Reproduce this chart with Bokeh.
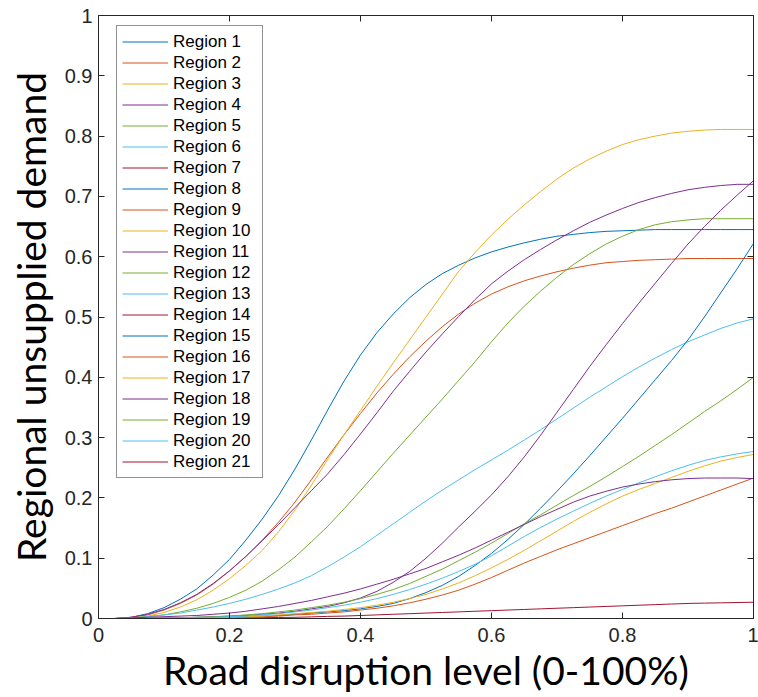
from bokeh.plotting import figure
from bokeh.models import Legend, LegendItem, LinearAxis, FixedTicker, Range1d
from bokeh.embed import file_html
from bokeh.resources import INLINE

# ---------------- data ----------------
x_vals = [0.025, 0.05, 0.075, 0.1, 0.125, 0.15, 0.175, 0.2, 0.225, 0.25,
          0.275, 0.3, 0.325, 0.35, 0.375, 0.4, 0.425, 0.45, 0.475, 0.5,
          0.525, 0.55, 0.575, 0.6, 0.625, 0.65, 0.675, 0.7, 0.725, 0.75,
          0.775, 0.8, 0.825, 0.85, 0.875, 0.9, 0.925, 0.95, 0.975, 1.0]

region_1 = [0, 0.002, 0.008, 0.018, 0.032, 0.049, 0.072, 0.098, 0.13, 0.165,
            0.204, 0.248, 0.296, 0.346, 0.394, 0.437, 0.474, 0.505, 0.532, 0.554,
            0.572, 0.586, 0.598, 0.608, 0.616, 0.623, 0.629, 0.634, 0.637, 0.64,
            0.642, 0.643, 0.644, 0.645, 0.645, 0.645, 0.645, 0.645, 0.645, 0.645]
region_2 = [0, 0.002, 0.006, 0.014, 0.025, 0.039, 0.057, 0.079, 0.103, 0.13,
            0.16, 0.193, 0.23, 0.268, 0.305, 0.34, 0.374, 0.405, 0.434, 0.46,
            0.484, 0.505, 0.523, 0.538, 0.55, 0.56, 0.568, 0.575, 0.581, 0.586,
            0.59, 0.592, 0.594, 0.595, 0.596, 0.597, 0.597, 0.597, 0.597, 0.597]
region_3 = [0, 0.001, 0.004, 0.01, 0.019, 0.031, 0.047, 0.066, 0.088, 0.113,
            0.144, 0.18, 0.221, 0.264, 0.305, 0.345, 0.385, 0.424, 0.462, 0.5,
            0.538, 0.576, 0.607, 0.636, 0.662, 0.686, 0.708, 0.729, 0.747, 0.762,
            0.775, 0.786, 0.794, 0.8, 0.805, 0.808, 0.81, 0.811, 0.811, 0.811]
region_4 = [0, 0.002, 0.007, 0.015, 0.026, 0.04, 0.058, 0.079, 0.103, 0.129,
            0.156, 0.184, 0.212, 0.24, 0.272, 0.306, 0.341, 0.377, 0.41, 0.442,
            0.472, 0.501, 0.529, 0.555, 0.576, 0.595, 0.612, 0.628, 0.643, 0.657,
            0.669, 0.68, 0.69, 0.698, 0.705, 0.711, 0.715, 0.718, 0.72, 0.72]
region_5 = [0, 0.001, 0.003, 0.006, 0.011, 0.017, 0.025, 0.035, 0.047, 0.062,
            0.081, 0.102, 0.127, 0.153, 0.182, 0.212, 0.243, 0.274, 0.304, 0.334,
            0.364, 0.395, 0.426, 0.459, 0.49, 0.518, 0.543, 0.566, 0.587, 0.605,
            0.621, 0.634, 0.645, 0.653, 0.658, 0.661, 0.663, 0.663, 0.663, 0.663]
region_6 = [0, 0.001, 0.003, 0.006, 0.009, 0.014, 0.019, 0.025, 0.032, 0.04,
            0.049, 0.059, 0.071, 0.086, 0.102, 0.119, 0.138, 0.157, 0.176, 0.195,
            0.213, 0.23, 0.247, 0.263, 0.279, 0.296, 0.313, 0.331, 0.349, 0.367,
            0.384, 0.401, 0.417, 0.432, 0.446, 0.459, 0.47, 0.481, 0.49, 0.497]
region_7 = [0, 0, 0, 0, 0, 0, 0, 0.0005, 0.001, 0.0013,
            0.0017, 0.002, 0.0027, 0.0035, 0.004, 0.005, 0.006, 0.007, 0.008, 0.009,
            0.01, 0.011, 0.012, 0.013, 0.014, 0.015, 0.016, 0.017, 0.018, 0.019,
            0.02, 0.021, 0.022, 0.023, 0.024, 0.025, 0.0255, 0.026, 0.0265, 0.027]
region_8 = [0, 0, 0, 0, 0.001, 0.001, 0.002, 0.002, 0.003, 0.004,
            0.005, 0.007, 0.009, 0.011, 0.013, 0.016, 0.02, 0.025, 0.033, 0.043,
            0.055, 0.07, 0.088, 0.108, 0.131, 0.156, 0.183, 0.211, 0.24, 0.27,
            0.301, 0.332, 0.364, 0.396, 0.428, 0.462, 0.5, 0.54, 0.58, 0.622]
region_9 = [0, 0, 0, 0, 0, 0.001, 0.001, 0.002, 0.002, 0.003,
            0.004, 0.006, 0.007, 0.009, 0.011, 0.014, 0.017, 0.021, 0.026, 0.032,
            0.039, 0.047, 0.057, 0.068, 0.08, 0.092, 0.103, 0.114, 0.124, 0.134,
            0.144, 0.154, 0.164, 0.174, 0.183, 0.193, 0.203, 0.213, 0.223, 0.233]
region_10 = [0, 0, 0, 0, 0.001, 0.001, 0.002, 0.002, 0.003, 0.004,
             0.006, 0.008, 0.01, 0.012, 0.015, 0.018, 0.022, 0.027, 0.033, 0.04,
             0.049, 0.059, 0.071, 0.084, 0.098, 0.113, 0.129, 0.145, 0.161, 0.176,
             0.19, 0.203, 0.214, 0.224, 0.234, 0.244, 0.253, 0.261, 0.267, 0.272]
region_11 = [0, 0, 0, 0.001, 0.001, 0.002, 0.003, 0.004, 0.005, 0.007,
             0.009, 0.012, 0.016, 0.02, 0.026, 0.034, 0.045, 0.06, 0.078, 0.1,
             0.125, 0.152, 0.178, 0.205, 0.235, 0.268, 0.304, 0.342, 0.38, 0.418,
             0.454, 0.489, 0.523, 0.556, 0.589, 0.621, 0.65, 0.677, 0.702, 0.726]
region_12 = [0, 0, 0, 0.001, 0.001, 0.002, 0.003, 0.004, 0.006, 0.008,
             0.011, 0.014, 0.018, 0.022, 0.027, 0.033, 0.04, 0.048, 0.058, 0.07,
             0.082, 0.096, 0.11, 0.125, 0.141, 0.157, 0.172, 0.188, 0.204, 0.219,
             0.235, 0.252, 0.269, 0.287, 0.305, 0.324, 0.343, 0.361, 0.38, 0.40]
region_13 = [0, 0, 0, 0.001, 0.001, 0.002, 0.002, 0.003, 0.004, 0.006,
             0.008, 0.011, 0.014, 0.018, 0.022, 0.027, 0.033, 0.04, 0.048, 0.057,
             0.067, 0.078, 0.09, 0.104, 0.12, 0.136, 0.151, 0.165, 0.178, 0.191,
             0.203, 0.214, 0.225, 0.235, 0.245, 0.254, 0.262, 0.268, 0.273, 0.277]
region_14 = [0] * 40
region_15 = [0] * 40
region_16 = [0] * 40
region_17 = [0] * 40
region_18 = [0, 0.001, 0.002, 0.003, 0.004, 0.005, 0.007, 0.009, 0.012, 0.016,
             0.02, 0.025, 0.03, 0.036, 0.042, 0.049, 0.057, 0.065, 0.074, 0.083,
             0.094, 0.105, 0.117, 0.13, 0.143, 0.156, 0.169, 0.181, 0.193, 0.203,
             0.211, 0.218, 0.223, 0.227, 0.23, 0.232, 0.233, 0.233, 0.233, 0.232]
region_19 = [0] * 40
region_20 = [0] * 40
region_21 = [0] * 40

series = [region_1, region_2, region_3, region_4, region_5, region_6, region_7,
          region_8, region_9, region_10, region_11, region_12, region_13, region_14,
          region_15, region_16, region_17, region_18, region_19, region_20, region_21]
labels = ["Region %d" % (i + 1) for i in range(21)]

x_ticks = [0, 0.2, 0.4, 0.6, 0.8, 1]
x_tick_labels = ["0", "0.2", "0.4", "0.6", "0.8", "1"]
y_ticks = [0, 0.1, 0.2, 0.3, 0.4, 0.5, 0.6, 0.7, 0.8, 0.9, 1]
y_tick_labels = ["0", "0.1", "0.2", "0.3", "0.4", "0.5", "0.6", "0.7", "0.8", "0.9", "1"]

palette = ["#0072BD", "#D95319", "#EDB120", "#7E2F8E", "#77AC30", "#4DBEEE", "#A2142F"]

# ---------------- figure ----------------
p = figure(frame_width=655, frame_height=603, output_backend="svg",
           toolbar_location=None, x_range=Range1d(0, 1), y_range=Range1d(0, 1),
           min_border_left=98, min_border_right=5, min_border_top=15, min_border_bottom=79)
p.background_fill_color = "white"
p.border_fill_color = "white"
p.outline_line_color = None
p.xgrid.visible = False
p.ygrid.visible = False

axis_color = "#262626"
tick_font = "Liberation Sans"
label_font = "Lato"

items = []
for i, ys in enumerate(series):
    r = p.line(x_vals, ys, line_color=palette[i % 7], line_width=1)
    items.append(LegendItem(label=labels[i], renderers=[r]))

for ax in (p.xaxis[0], p.yaxis[0]):
    ax.axis_line_color = axis_color
    ax.major_tick_line_color = axis_color
    ax.major_tick_in = 6
    ax.major_tick_out = 0
    ax.minor_tick_line_color = None
    ax.major_label_text_font = tick_font
    ax.major_label_text_font_size = "20px"
    ax.major_label_text_color = axis_color
    ax.axis_label_text_font = label_font
    ax.axis_label_text_font_size = "39px"
    ax.axis_label_text_font_style = "normal"
    ax.axis_label_text_color = "black"

p.xaxis[0].major_label_standoff = 9
p.yaxis[0].major_label_standoff = 6
p.xaxis[0].ticker = FixedTicker(ticks=x_ticks)
p.xaxis[0].major_label_overrides = {t: l for t, l in zip(x_ticks, x_tick_labels)}
p.yaxis[0].ticker = FixedTicker(ticks=y_ticks)
p.yaxis[0].major_label_overrides = {t: l for t, l in zip(y_ticks, y_tick_labels)}
p.xaxis[0].axis_label = "Road disruption level (0-100%)"
p.yaxis[0].axis_label = "Regional unsupplied demand"
p.xaxis[0].axis_label_standoff = 2
p.yaxis[0].axis_label_standoff = 8

# box axes (top / right) with inward ticks and no visible labels
top = LinearAxis(ticker=FixedTicker(ticks=x_ticks), major_label_text_font_size="1px",
                 major_label_text_color=None,
                 major_tick_in=6, major_tick_out=0, minor_tick_line_color=None,
                 axis_line_color=axis_color, major_tick_line_color=axis_color,
                 major_label_standoff=0)
right = LinearAxis(ticker=FixedTicker(ticks=y_ticks), major_label_text_font_size="1px",
                   major_label_text_color=None,
                   major_tick_in=6, major_tick_out=0, minor_tick_line_color=None,
                   axis_line_color=axis_color, major_tick_line_color=axis_color,
                   major_label_standoff=0)
p.add_layout(top, "above")
p.add_layout(right, "right")

legend = Legend(items=items, location=(18, 140))
legend.label_text_font = tick_font
legend.label_text_font_size = "17px"
legend.label_text_color = "black"
legend.glyph_width = 46
legend.glyph_height = 21
legend.label_height = 21
legend.label_width = 84
legend.label_standoff = 5
legend.spacing = 0
legend.padding = 5
legend.margin = 0
legend.border_line_color = axis_color
legend.border_line_width = 1
legend.background_fill_color = "white"
legend.background_fill_alpha = 1
p.add_layout(legend, "center")

open("out.html", "w").write(file_html(p, INLINE))
